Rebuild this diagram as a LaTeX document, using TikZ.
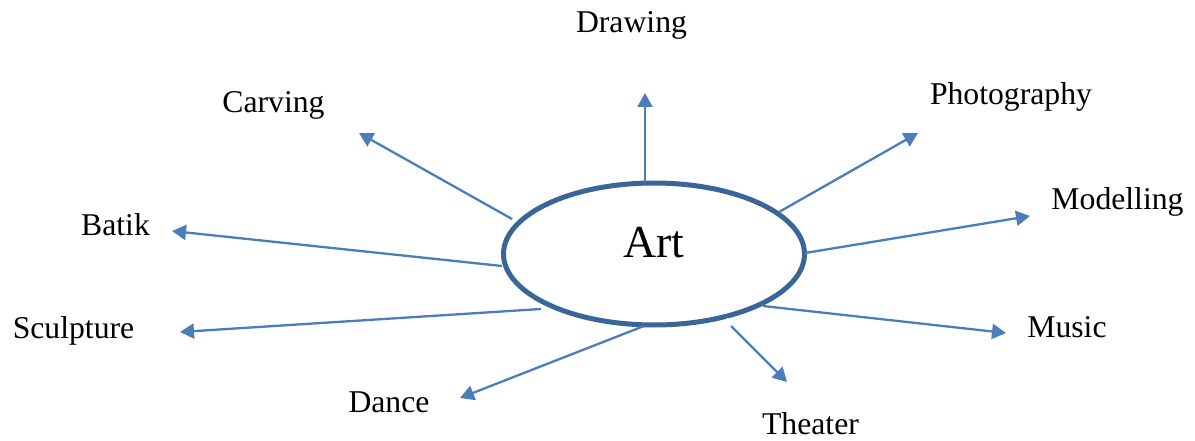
\documentclass[tikz,border=0pt]{standalone}
\usepackage{fontspec}
\setmainfont{Liberation Serif}
\usetikzlibrary{arrows.meta,shapes.geometric}
\definecolor{ringblue}{HTML}{3A6598}
\definecolor{spokeblue}{HTML}{4A7EBB}
\tikzset{
  spoke/.style={draw=spokeblue, line width=2.3pt,
    -{Triangle[length=14pt,width=15pt]}},
  topic/.style={anchor=base, inner sep=0pt,
    font=\fontsize{31.7}{38}\selectfont},
  ring/.style={ellipse, draw=ringblue, line width=5pt, fill=white,
    minimum width=301pt, minimum height=142pt, inner sep=0pt}
}
\begin{document}
\begin{tikzpicture}[x=1pt, y=-1pt]
\useasboundingbox[fill=white] (0,0) rectangle (1195,441);

% central ellipse and its label
\node[ring] (art) at (654,254) {};
\node[anchor=base, inner sep=0pt, font=\fontsize{45.8}{52}\selectfont]
  (artlabel) at (654,258) {Art};
% small break in the ring where the Theater spoke leaves it
\draw[white, line width=1.6pt] (727.5,318) -- (730.5,333);

% spoke start points on the ring
\coordinate (sDraw)  at (645,182);
\coordinate (sPhoto) at (779,212);
\coordinate (sModel) at (805,253);
\coordinate (sMusic) at (763,306);
\coordinate (sTheat) at (731,326);
\coordinate (sDance) at (644,326);
\coordinate (sSculp) at (541,309);
\coordinate (sBatik) at (502,266);
\coordinate (sCarve) at (512,219);

% spoke tips
\coordinate (tDraw)  at (645,93);
\coordinate (tPhoto) at (918,133);
\coordinate (tModel) at (1030,216);
\coordinate (tMusic) at (1006,333);
\coordinate (tTheat) at (787,382);
\coordinate (tDance) at (460,398);
\coordinate (tSculp) at (180,332);
\coordinate (tBatik) at (172,231);
\coordinate (tCarve) at (359,133);

% spokes
\draw[spoke] (sDraw)  -- (tDraw);
\draw[spoke] (sPhoto) -- (tPhoto);
\draw[spoke] (sModel) -- (tModel);
\draw[spoke] (sMusic) -- (tMusic);
\draw[spoke] (sTheat) -- (tTheat);
\draw[spoke] (sDance) -- (tDance);
\draw[spoke] (sSculp) -- (tSculp);
\draw[spoke] (sBatik) -- (tBatik);
\draw[spoke] (sCarve) -- (tCarve);

% topic labels
\node[topic] (drawing)     at (631.5,33)  {Drawing};
\node[topic] (photography) at (1011,105)  {Photography};
\node[topic] (modelling)   at (1117.5,210) {Modelling};
\node[topic] (music)       at (1067,337)  {Music};
\node[topic] (theater)     at (810.5,434.5) {Theater};
\node[topic] (dance)       at (389,412)   {Dance};
\node[topic] (sculpture)   at (73.5,338)  {Sculpture};
\node[topic] (batik)       at (115.5,236) {Batik};
\node[topic] (carving)     at (273.5,113) {Carving};
\end{tikzpicture}
\end{document}
